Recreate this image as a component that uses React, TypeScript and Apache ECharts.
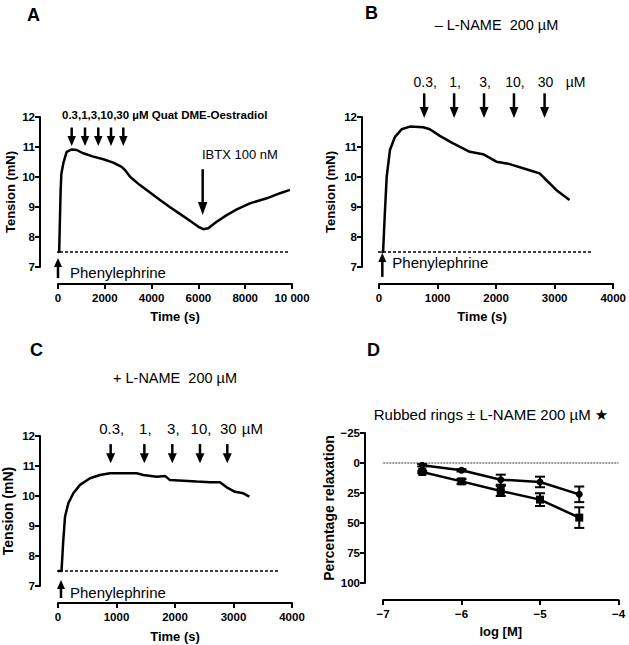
import React, { useEffect, useRef } from "react";
import * as echarts from "echarts";

const FONT = "'Liberation Sans', Arial, Helvetica, 'DejaVu Sans', sans-serif";

// ---------- Panel A : tension trace ----------
const timeA = [0, 50, 80, 110, 143, 228, 370, 585, 800, 1080, 1510, 1940, 2360, 2720, 2863, 3080, 3500, 3930, 4360, 4790, 5210, 5640, 6000, 6210, 6420, 6780, 7210, 7640, 8200, 8920, 9490, 9910];
const tensionA = [7.5, 7.5, 8.5, 9.5, 10.1, 10.46, 10.84, 10.92, 10.9, 10.79, 10.68, 10.59, 10.48, 10.34, 10.23, 10.01, 9.73, 9.48, 9.23, 8.99, 8.77, 8.54, 8.34, 8.26, 8.29, 8.51, 8.73, 8.92, 9.12, 9.29, 9.46, 9.57];
const doseTimesA = [585, 1154, 1722, 2265, 2791];
const doseArrowA = [11.65, 11.03];
const ibtxTimeA = [6183];
const ibtxArrowA = [10.26, 8.73];
const pheTimeA = [0];
const pheArrowA = [6.63, 7.3];
const baselineA = [-770, 9915];

// ---------- Panel B : - L-NAME ----------
const timeB = [40, 70, 97, 131, 187, 273, 386, 528, 755, 869, 1039, 1266, 1550, 1777, 2005, 2232, 2516, 2743, 2856, 3027, 3254];
const tensionB = [7.5, 7.5, 8.67, 10.0, 10.9, 11.34, 11.59, 11.68, 11.66, 11.59, 11.37, 11.12, 10.84, 10.76, 10.51, 10.43, 10.26, 10.12, 9.9, 9.57, 9.23];
const doseTimesB = [772, 1283, 1794, 2305, 2828];
const doseLabelsB = ["0.3,", "1,", "3,", "10,", "30"];
const doseArrowB = [12.79, 11.97];
const pheTimeB = [57];
const pheArrowB = [6.67, 7.47];
const baselineB = [-273, 3646];

// ---------- Panel C : + L-NAME ----------
const timeC = [0, 60, 88, 120, 177, 262, 376, 547, 718, 889, 1117, 1345, 1459, 1687, 1829, 1915, 2142, 2370, 2598, 2769, 2883, 3026, 3168, 3271];
const tensionC = [7.5, 7.5, 8.45, 9.31, 9.76, 10.09, 10.37, 10.59, 10.7, 10.76, 10.76, 10.76, 10.7, 10.64, 10.67, 10.53, 10.51, 10.48, 10.46, 10.46, 10.29, 10.14, 10.09, 9.98];
const doseTimesC = [900, 1476, 1954, 2427, 2894];
const doseLabelsC = ["0.3,", "1,", "3,", "10,", "30"];
const doseArrowC = [11.73, 11.09];
const pheTimeC = [51];
const pheArrowC = [6.6, 7.2];
const baselineC = [-308, 3761];

// ---------- Panel D : concentration-response ----------
const logConc = [-6.5, -6, -5.5, -5, -4.5];
const relaxCircle = [1.9, 6.1, 13.9, 15.8, 26.1];
const semCircle = [1, 1, 4.2, 4.4, 6.5];
const relaxSquare = [7.5, 15.3, 23.3, 30.5, 45.5];
const semSquare = [1, 2, 4.2, 5.3, 8.6];
const zeroLineD = [-7.225, -4];

const TICK_FS = 11.5;

const axisBase = (extra: any) => ({
  type: "value",
  splitLine: { show: false },
  axisLine: { show: true, onZero: false, lineStyle: { color: "#000", width: 2 } },
  axisTick: { show: true, length: 5, lineStyle: { color: "#000", width: 2 } },
  nameLocation: "middle",
  nameTextStyle: { color: "#000", fontSize: 13, fontWeight: "bold", fontFamily: FONT },
  ...extra,
});

const lbl = (margin: number, formatter: any) => ({
  color: "#000", fontSize: TICK_FS, fontWeight: "bold", fontFamily: FONT, margin, formatter,
});

const plain = (v: number) => String(v);
const minus = (v: number) => (v < 0 ? "\u2212" + Math.abs(v) : String(v));
const spaced = (v: number) => (v >= 10000 ? "10 000" : String(v));

function traceSeries(gi: number, xs: number[], ys: number[]) {
  return {
    type: "line",
    xAxisIndex: gi,
    yAxisIndex: gi,
    data: xs.map((x, i) => [x, ys[i]]),
    showSymbol: false,
    symbol: "none",
    clip: false,
    z: 3,
    lineStyle: { color: "#000", width: 2.5 },
  };
}

function baselineSeries(gi: number, span: number[], level: number, style: any) {
  return {
    type: "line",
    xAxisIndex: gi,
    yAxisIndex: gi,
    data: [[span[0], level], [span[1], level]],
    showSymbol: false,
    symbol: "none",
    clip: false,
    silent: true,
    z: 1,
    lineStyle: style,
  };
}

function arrowSeries(gi: number, times: number[], range: number[], opts: any) {
  return {
    type: "custom",
    xAxisIndex: gi,
    yAxisIndex: gi,
    clip: false,
    silent: true,
    z: 4,
    data: times.map((t) => [t, range[0], range[1]]),
    encode: { x: 0, y: [1, 2] },
    renderItem: (params: any, api: any) => {
      const p1 = api.coord([api.value(0), api.value(1)]);
      const p2 = api.coord([api.value(0), api.value(2)]);
      const dir = p2[1] > p1[1] ? 1 : -1;
      const by = p2[1] - dir * opts.headH;
      const children: any[] = [
        {
          type: "line",
          shape: { x1: p1[0], y1: p1[1], x2: p1[0], y2: by + dir * 1 },
          style: { stroke: "#000", lineWidth: opts.shaft },
        },
        {
          type: "polygon",
          shape: { points: [[p2[0] - opts.headW / 2, by], [p2[0] + opts.headW / 2, by], [p2[0], p2[1]]] },
          style: { fill: "#000" },
        },
      ];
      if (opts.labels) {
        children.push({
          type: "text",
          x: p1[0] + 1,
          y: p1[1] - opts.labelGap,
          style: {
            text: opts.labels[params.dataIndex],
            fill: "#000",
            fontSize: opts.fontSize,
            fontFamily: FONT,
            align: "center",
            verticalAlign: "bottom",
          },
        });
        if (params.dataIndex === opts.labels.length - 1 && opts.unit) {
          children.push({
            type: "text",
            x: p1[0] + opts.unitDx,
            y: p1[1] - opts.labelGap,
            style: {
              text: opts.unit,
              fill: "#000",
              fontSize: opts.fontSize,
              fontFamily: FONT,
              align: "center",
              verticalAlign: "bottom",
            },
          });
        }
      }
      if (opts.sideText) {
        children.push({
          type: "text",
          x: p1[0] + opts.sideDx,
          y: (p1[1] + p2[1]) / 2 + opts.sideDy,
          style: {
            text: opts.sideText,
            fill: "#000",
            fontSize: opts.fontSize,
            fontFamily: FONT,
            align: "left",
            verticalAlign: "middle",
          },
        });
      }
      return { type: "group", children };
    },
  };
}

function errorSeries(gi: number, xs: number[], mean: number[], sem: number[]) {
  return {
    type: "custom",
    xAxisIndex: gi,
    yAxisIndex: gi,
    clip: false,
    silent: true,
    z: 4,
    data: xs.map((x, i) => [x, mean[i] - sem[i], mean[i] + sem[i]]),
    encode: { x: 0, y: [1, 2] },
    renderItem: (params: any, api: any) => {
      const a = api.coord([api.value(0), api.value(1)]);
      const b = api.coord([api.value(0), api.value(2)]);
      const w = 5;
      const st = { stroke: "#000", lineWidth: 2 };
      return {
        type: "group",
        children: [
          { type: "line", shape: { x1: a[0], y1: a[1], x2: b[0], y2: b[1] }, style: st },
          { type: "line", shape: { x1: a[0] - w, y1: a[1], x2: a[0] + w, y2: a[1] }, style: st },
          { type: "line", shape: { x1: b[0] - w, y1: b[1], x2: b[0] + w, y2: b[1] }, style: st },
        ],
      };
    },
  };
}

const txt = (x: number, y: number, text: string, fontSize: number, extra: any = {}) => ({
  type: "text",
  x,
  y,
  silent: true,
  style: {
    text,
    fill: "#000",
    fontSize,
    fontFamily: FONT,
    align: "left",
    verticalAlign: "middle",
    ...extra,
  },
});

export default function App() {
  const ref = useRef<HTMLDivElement>(null);
  useEffect(() => {
    if (!ref.current) return;
    const chart = echarts.init(ref.current, undefined, { renderer: "svg" });
    const dashed = { color: "#000", width: 1.5, type: [3, 2] };
    const option: any = {
      animation: false,
      backgroundColor: "#fff",
      textStyle: { fontFamily: FONT },
      grid: [
        { left: 58, top: 117, width: 234, height: 150 },
        { left: 379, top: 117, width: 235, height: 150 },
        { left: 58, top: 436, width: 234, height: 150 },
        { left: 383, top: 433, width: 235.5, height: 150 },
      ],
      xAxis: [
        axisBase({
          gridIndex: 0, min: 0, max: 10000, interval: 2000, offset: 17,
          name: "Time (s)", nameGap: 26,
          axisLabel: lbl(8, spaced),
        }),
        axisBase({
          gridIndex: 1, min: 0, max: 4000, interval: 1000, offset: 17,
          name: "Time (s)", nameGap: 26,
          nameTextStyle: { color: "#000", fontSize: 13, fontWeight: "bold", fontFamily: FONT, padding: [0, 28, 0, 0] },
          axisLabel: lbl(8, plain),
        }),
        axisBase({
          gridIndex: 2, min: 0, max: 4000, interval: 1000, offset: 17,
          name: "Time (s)", nameGap: 27,
          axisLabel: lbl(8, plain),
        }),
        axisBase({
          gridIndex: 3, min: -7, max: -4, interval: 1, offset: 17,
          name: "log [M]", nameGap: 25,
          axisLabel: lbl(8, minus),
        }),
      ],
      yAxis: [
        axisBase({
          gridIndex: 0, min: 7, max: 12, interval: 1, offset: 18,
          name: "Tension (mN)", nameGap: 23,
          axisLabel: lbl(5, plain),
        }),
        axisBase({
          gridIndex: 1, min: 7, max: 12, interval: 1, offset: 17,
          name: "Tension (mN)", nameGap: 25,
          axisLabel: lbl(5, plain),
        }),
        axisBase({
          gridIndex: 2, min: 7, max: 12, interval: 1, offset: 18,
          name: "Tension (mN)", nameGap: 25,
          nameTextStyle: { color: "#000", fontSize: 14, fontWeight: "bold", fontFamily: FONT },
          axisLabel: lbl(5, plain),
        }),
        axisBase({
          gridIndex: 3, min: -25, max: 100, interval: 25, offset: 18, inverse: true,
          name: "Percentage relaxation", nameGap: 29,
          nameTextStyle: { color: "#000", fontSize: 14, fontWeight: "bold", fontFamily: FONT },
          axisLabel: lbl(5, minus),
        }),
      ],
      series: [
        // A
        baselineSeries(0, baselineA, 7.5, dashed),
        traceSeries(0, timeA, tensionA),
        arrowSeries(0, doseTimesA, doseArrowA, { headW: 8.5, headH: 10, shaft: 2.5 }),
        arrowSeries(0, ibtxTimeA, ibtxArrowA, { headW: 9.5, headH: 13, shaft: 2.5 }),
        arrowSeries(0, pheTimeA, pheArrowA, { headW: 8, headH: 9, shaft: 2.5, sideText: "Phenylephrine", sideDx: 12, sideDy: 4, fontSize: 15 }),
        // B
        baselineSeries(1, baselineB, 7.5, dashed),
        traceSeries(1, timeB, tensionB),
        arrowSeries(1, doseTimesB, doseArrowB, { headW: 9, headH: 11, shaft: 2.5, labels: doseLabelsB, labelGap: 4, fontSize: 14, unit: "\u00b5M", unitDx: 31 }),
        arrowSeries(1, pheTimeB, pheArrowB, { headW: 8, headH: 9, shaft: 2.5, sideText: "Phenylephrine", sideDx: 10, sideDy: -2, fontSize: 15 }),
        // C
        baselineSeries(2, baselineC, 7.5, dashed),
        traceSeries(2, timeC, tensionC),
        arrowSeries(2, doseTimesC, doseArrowC, { headW: 9, headH: 10, shaft: 2.5, labels: doseLabelsC, labelGap: 8, fontSize: 15, unit: "\u00b5M", unitDx: 25 }),
        arrowSeries(2, pheTimeC, pheArrowC, { headW: 8, headH: 9, shaft: 2.5, sideText: "Phenylephrine", sideDx: 9, sideDy: 3, fontSize: 15 }),
        // D
        baselineSeries(3, zeroLineD, 0, { color: "#777", width: 1.5, type: [2, 1] }),
        errorSeries(3, logConc, relaxCircle, semCircle),
        errorSeries(3, logConc, relaxSquare, semSquare),
        {
          type: "line", xAxisIndex: 3, yAxisIndex: 3, z: 5,
          data: logConc.map((x, i) => [x, relaxCircle[i]]),
          symbol: "circle", symbolSize: 7, showSymbol: true,
          itemStyle: { color: "#000" }, lineStyle: { color: "#000", width: 2.5 },
        },
        {
          type: "line", xAxisIndex: 3, yAxisIndex: 3, z: 5,
          data: logConc.map((x, i) => [x, relaxSquare[i]]),
          symbol: "rect", symbolSize: 8, showSymbol: true,
          itemStyle: { color: "#000" }, lineStyle: { color: "#000", width: 2.5 },
        },
      ],
      graphic: [
        txt(27, 14.5, "A", 18, { fontWeight: "bold" }),
        txt(365, 13, "B", 18, { fontWeight: "bold" }),
        txt(30, 350, "C", 18, { fontWeight: "bold" }),
        txt(367, 350, "D", 18, { fontWeight: "bold" }),
        txt(62, 115, "0.3,1,3,10,30 \u00b5M Quat DME-Oestradiol", 11.5, { fontWeight: "bold" }),
        txt(202, 154, "IBTX 100 nM", 13),
        txt(496.5, 24.7, "\u2013 L-NAME  200 \u00b5M", 14.5, { align: "center" }),
        txt(175, 378.3, "+ L-NAME  200 \u00b5M", 14.5, { align: "center" }),
        txt(491, 414, "Rubbed rings \u00b1 L-NAME 200 \u00b5M \u2605", 15, { align: "center" }),
      ],
    };
    chart.setOption(option);
    return () => chart.dispose();
  }, []);
  return (
    <div
      ref={ref}
      style={{ position: "absolute", left: 0, top: 0, width: 629, height: 645, background: "#fff" }}
    />
  );
}
